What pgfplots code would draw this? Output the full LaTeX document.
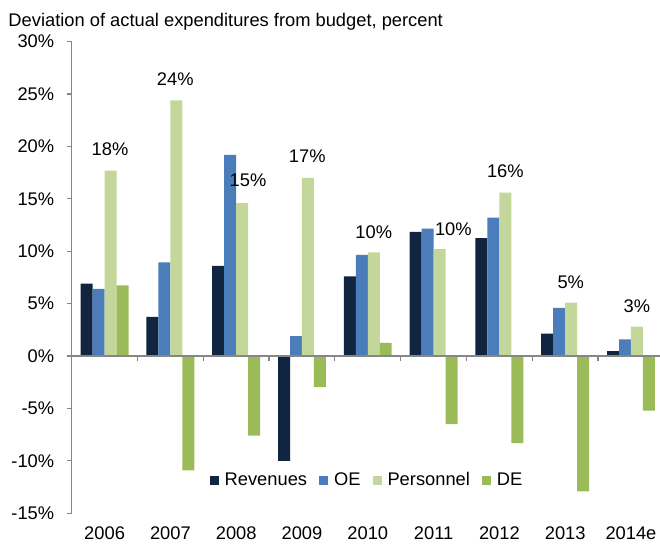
\documentclass[border=0pt]{standalone}
\usepackage{pgfplots}
\pgfplotsset{compat=1.18}
\usepackage{fontspec}
\setmainfont{Liberation Sans}
\newcommand{\chartfont}{\fontsize{18.3}{21}\selectfont}
\definecolor{cRev}{RGB}{17,37,64}
\definecolor{cOE}{RGB}{74,125,186}
\definecolor{cPer}{RGB}{196,215,155}
\definecolor{cDE}{RGB}{155,187,89}
\definecolor{axgray}{RGB}{134,134,134}
\pgfplotsset{
  mybar/.style={ybar, bar width=0.182, draw=none,
    legend image code/.code={\fill[##1] (0pt,-4.5pt) rectangle (9pt,4.5pt);}},
}
\begin{document}
\begin{tikzpicture}
\useasboundingbox (0,0) rectangle (660pt,-544pt);
\begin{axis}[
  at={(71.7pt,-41.6pt)}, anchor=north west,
  scale only axis, width=588.3pt, height=471.7pt,
  xmin=-0.5, xmax=8.441, ymin=-15, ymax=30,
  axis y line=left, axis x line=bottom,
  axis line style={-},
  x axis line style={draw=none},
  y axis line style={axgray, line width=1.2pt},
  xtick={0,...,8},
  xticklabels={2006,2007,2008,2009,2010,2011,2012,2013,2014e},
  x tick style={draw=none},
  ytick={-15,-10,-5,0,5,10,15,20,25,30},
  yticklabels={-15\%,-10\%,-5\%,0\%,5\%,10\%,15\%,20\%,25\%,30\%},
  y tick style={axgray, line width=1.2pt},
  tick align=outside, major tick length=5pt,
  ticklabel style={font=\chartfont},
  yticklabel style={xshift=-9pt},
  xticklabel style={yshift=-4.5pt},
  legend style={at={(0.502,0.0706)}, anchor=center, draw=none, fill=none,
    legend columns=-1, font=\chartfont,
    /tikz/every odd column/.append style={column sep=4pt},
    /tikz/every even column/.append style={column sep=10pt}},
]
\addplot[mybar, bar shift=-0.273, fill=cRev] coordinates {
  (0,6.9) (1,3.75) (2,8.6) (3,-10.0) (4,7.6) (5,11.85) (6,11.25) (7,2.13) (8,0.48)};
\addlegendentry{Revenues}
\addplot[mybar, bar shift=-0.091, fill=cOE] coordinates {
  (0,6.4) (1,8.95) (2,19.2) (3,1.9) (4,9.65) (5,12.15) (6,13.2) (7,4.6) (8,1.6)};
\addlegendentry{OE}
\addplot[mybar, bar shift=0.091, fill=cPer] coordinates {
  (0,17.7) (1,24.4) (2,14.6) (3,17.0) (4,9.9) (5,10.2) (6,15.6) (7,5.1) (8,2.8)};
\addlegendentry{Personnel}
\addplot[mybar, bar shift=0.273, fill=cDE] coordinates {
  (0,6.75) (1,-10.9) (2,-7.6) (3,-2.96) (4,1.27) (5,-6.5) (6,-8.3) (7,-12.9) (8,-5.2)};
\addlegendentry{DE}
\addplot[forget plot, draw=none, mark=none, nodes near coords,
  point meta=explicit symbolic,
  nodes near coords style={anchor=center, font=\chartfont, inner sep=0pt}]
  coordinates {
  (0.082,19.75) [18\%]
  (1.074,26.4) [24\%]
  (2.18,16.73) [15\%]
  (3.08,19.02) [17\%]
  (4.09,11.86) [10\%]
  (5.30,12.15) [10\%]
  (6.09,17.59) [16\%]
  (7.085,7.09) [5\%]
  (8.09,4.80) [3\%]
};
\end{axis}
\begin{axis}[
  at={(71.7pt,-41.6pt)}, anchor=north west,
  scale only axis, width=588.3pt, height=471.7pt,
  xmin=-0.5, xmax=8.441, ymin=-15, ymax=30,
  axis x line=middle, axis y line=none,
  axis line style={axgray, line width=1.2pt, -},
  xtick={0.5,1.5,...,7.5}, xticklabels={}, ytick=\empty,
  tick align=outside, major tick length=5pt,
  x tick style={axgray, line width=1.2pt},
]
\addplot[draw=none, mark=none] coordinates {(0,0)};
\end{axis}
\node[anchor=base west, font=\chartfont, inner sep=0pt] at (8.3pt,-26.7pt)
  {Deviation of actual expenditures from budget, percent};
\end{tikzpicture}
\end{document}
